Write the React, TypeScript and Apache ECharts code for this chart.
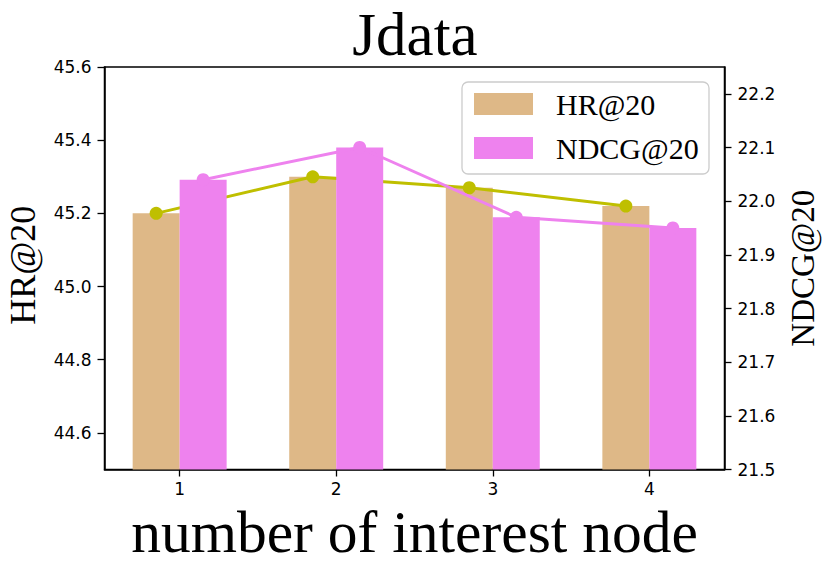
import React, { useEffect, useRef } from "react";
import * as echarts from "echarts";

const categories = [1, 2, 3, 4];
const hrValues = [45.2, 45.3, 45.27, 45.22];
const ndcgValues = [22.04, 22.1, 21.97, 21.95];
const hrTicks = [44.6, 44.8, 45.0, 45.2, 45.4, 45.6];
const ndcgTicks = [21.5, 21.6, 21.7, 21.8, 21.9, 22.0, 22.1, 22.2];
const seriesNames = ["HR@20", "NDCG@20"];

const SERIF = "'Liberation Serif', 'Times New Roman', serif";
const SANS = "'DejaVu Sans', sans-serif";
const TAN = "#DEB887";
const VIOLET = "#EE82EE";
const OLIVE = "#BFBF00";
const OFFSET = 0.15;

export default function App() {
  const ref = useRef<HTMLDivElement>(null);
  useEffect(() => {
    document.body.style.margin = "0";
    const chart = echarts.init(ref.current!, null, { renderer: "svg" });
    const hrData = categories.map((c, i) => [c - OFFSET, hrValues[i]]);
    const ndcgData = categories.map((c, i) => [c + OFFSET, ndcgValues[i]]);
    const tickLabel = { fontFamily: SANS, fontSize: 17, color: "#000", margin: 13 };
    chart.setOption({
      animation: false,
      backgroundColor: "#fff",
      title: {
        text: "Jdata",
        left: "center",
        top: 4,
        padding: 0,
        textStyle: { fontFamily: SERIF, fontSize: 61, fontWeight: "normal", color: "#000" },
      },
      grid: {
        left: 104.5,
        right: 105.5,
        top: 67,
        bottom: 105.5,
        containLabel: false,
        outerBoundsMode: "none",
        show: true,
        borderColor: "#000",
        borderWidth: 1.5,
        backgroundColor: "transparent",
      },
      legend: {
        orient: "vertical",
        left: 474,
        top: 89,
        padding: 0,
        itemWidth: 59,
        itemHeight: 22,
        itemGap: 14,
        icon: "rect",
        selectedMode: false,
        z: 20,
        data: seriesNames,
        textStyle: { fontFamily: SERIF, fontSize: 30, color: "#000", padding: [0, 0, 0, 18], lineHeight: 22 },
      },
      graphic: [
        {
          type: "rect",
          z: 19,
          shape: { x: 462, y: 82, width: 247, height: 92, r: 6 },
          style: { fill: "rgba(255,255,255,0.8)", stroke: "#cccccc", lineWidth: 1.3 },
        },
      ],
      xAxis: {
        type: "value",
        min: 0.52,
        max: 4.48,
        name: "number of interest node",
        nameLocation: "middle",
        nameGap: 22,
        nameTextStyle: { fontFamily: SERIF, fontSize: 59.5, color: "#000" },
        splitLine: { show: false },
        axisLine: { show: true, lineStyle: { color: "#000", width: 1.5 } },
        axisTick: { show: true, length: 7, customValues: categories, lineStyle: { color: "#000", width: 1.3 } },
        axisLabel: { ...tickLabel, margin: 11, customValues: categories, formatter: (v: number) => String(v) },
      },
      yAxis: [
        {
          type: "value",
          position: "left",
          min: 44.5,
          max: 45.6,
          name: "HR@20",
          nameLocation: "middle",
          nameRotate: 90,
          nameGap: 64,
          nameTextStyle: { fontFamily: SERIF, fontSize: 36, color: "#000", padding: [0, 0, 0, 6] },
          splitLine: { show: false },
          axisLine: { show: true, lineStyle: { color: "#000", width: 1.5 } },
          axisTick: { show: true, length: 7, customValues: hrTicks, lineStyle: { color: "#000", width: 1.3 } },
          axisLabel: { ...tickLabel, customValues: hrTicks, formatter: (v: number) => v.toFixed(1) },
        },
        {
          type: "value",
          position: "right",
          min: 21.5,
          max: 22.25,
          name: "NDCG@20",
          nameLocation: "middle",
          nameRotate: 90,
          nameGap: 45,
          nameTextStyle: { fontFamily: SERIF, fontSize: 33, color: "#000" },
          splitLine: { show: false },
          axisLine: { show: true, lineStyle: { color: "#000", width: 1.5 } },
          axisTick: { show: true, length: 7, customValues: ndcgTicks, lineStyle: { color: "#000", width: 1.3 } },
          axisLabel: { ...tickLabel, customValues: ndcgTicks, formatter: (v: number) => v.toFixed(1) },
        },
      ],
      series: [
        {
          name: seriesNames[0],
          type: "bar",
          yAxisIndex: 0,
          data: hrData,
          barWidth: 47,
          barGap: "-100%",
          clip: true,
          z: 2,
          itemStyle: { color: TAN },
        },
        {
          name: seriesNames[0] + " line",
          type: "line",
          yAxisIndex: 0,
          data: hrData,
          symbol: "circle",
          symbolSize: 13,
          z: 3,
          lineStyle: { color: OLIVE, width: 3 },
          itemStyle: { color: OLIVE },
        },
        {
          name: seriesNames[1],
          type: "bar",
          yAxisIndex: 1,
          data: ndcgData,
          barWidth: 47,
          barGap: "-100%",
          clip: true,
          z: 4,
          itemStyle: { color: VIOLET },
        },
        {
          name: seriesNames[1] + " line",
          type: "line",
          yAxisIndex: 1,
          data: ndcgData,
          symbol: "circle",
          symbolSize: 13,
          z: 5,
          lineStyle: { color: VIOLET, width: 3 },
          itemStyle: { color: VIOLET },
        },
      ],
    });
    return () => chart.dispose();
  }, []);
  return <div ref={ref} style={{ width: 830, height: 575 }} />;
}
